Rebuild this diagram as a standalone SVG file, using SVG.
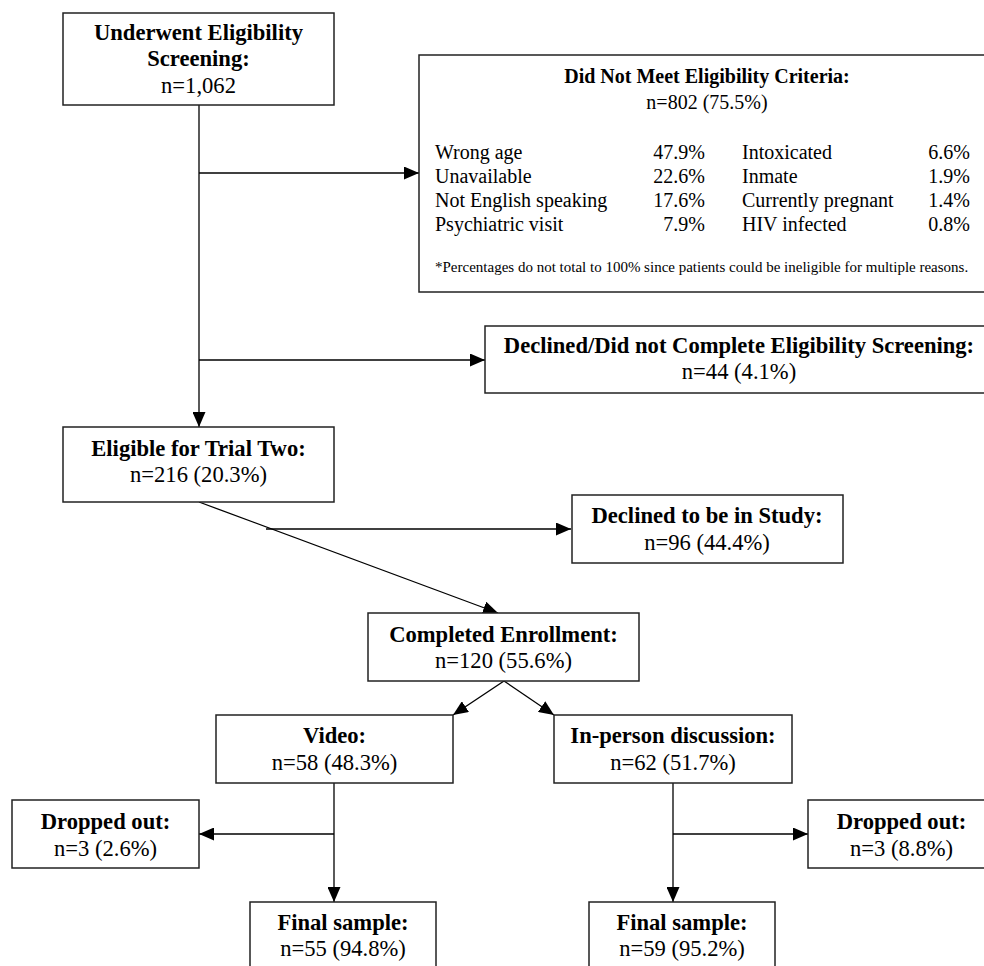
<svg xmlns="http://www.w3.org/2000/svg" width="984" height="966" viewBox="0 0 984 966">
<style>
  text { font-family: "Liberation Serif", "Times New Roman", serif; fill: #000; }
  .t { font-size: 22.6px; font-weight: bold; text-anchor: middle; }
  .n { font-size: 22.6px; text-anchor: middle; }
  .r { font-size: 20px; }
  .ra { font-size: 20px; text-anchor: end; }
  .tb { font-size: 20px; font-weight: bold; text-anchor: middle; }
  .nb { font-size: 20px; text-anchor: middle; }
  .fn { font-size: 15px; }
  rect { fill: #fff; stroke: #222; stroke-width: 1.5; }
  .c line { stroke: #000; stroke-width: 1.3; marker-end: url(#ah); }
  .c line.plain { marker-end: none; }
</style>
<defs>
  <marker id="ah" markerUnits="userSpaceOnUse" markerWidth="15" markerHeight="13" refX="15" refY="6.5" orient="auto">
    <path d="M0,0 L15,6.5 L0,13 z" fill="#000"/>
  </marker>
</defs>
<rect x="0" y="0" width="984" height="966" style="fill:#fff;stroke:none"/>

<g class="c" id="connectors">
  <line class="plain" x1="199" y1="105" x2="199" y2="360"/>
  <line x1="199" y1="173" x2="419" y2="173"/>
  <line x1="199" y1="360" x2="485" y2="360"/>
  <line x1="199" y1="360" x2="199" y2="427"/>
  <line x1="199" y1="502" x2="498" y2="613"/>
  <line x1="266" y1="529" x2="571" y2="529"/>
  <line x1="504" y1="681" x2="453" y2="715"/>
  <line x1="504" y1="681" x2="554" y2="715"/>
  <line x1="334" y1="783" x2="334" y2="902"/>
  <line x1="334" y1="834" x2="199" y2="834"/>
  <line x1="673" y1="783" x2="673" y2="902"/>
  <line x1="673" y1="834" x2="808" y2="834"/>
</g>

<g id="screening">
  <rect x="63" y="13" width="271" height="92"/>
  <text class="t" x="198.5" y="40">Underwent Eligibility</text>
  <text class="t" x="198.5" y="66">Screening:</text>
  <text class="n" x="198.5" y="93">n=1,062</text>
</g>

<g id="not-eligible">
  <rect x="419" y="55" width="576" height="237"/>
  <text class="tb" x="707" y="83">Did Not Meet Eligibility Criteria:</text>
  <text class="nb" x="707" y="109">n=802 (75.5%)</text>
  <text class="r" x="435" y="159">Wrong age</text>
  <text class="r" x="435" y="183">Unavailable</text>
  <text class="r" x="435" y="207">Not English speaking</text>
  <text class="r" x="435" y="231">Psychiatric visit</text>
  <text class="ra" x="705" y="159">47.9%</text>
  <text class="ra" x="705" y="183">22.6%</text>
  <text class="ra" x="705" y="207">17.6%</text>
  <text class="ra" x="705" y="231">7.9%</text>
  <text class="r" x="742" y="159">Intoxicated</text>
  <text class="r" x="742" y="183">Inmate</text>
  <text class="r" x="742" y="207">Currently pregnant</text>
  <text class="r" x="742" y="231">HIV infected</text>
  <text class="ra" x="970" y="159">6.6%</text>
  <text class="ra" x="970" y="183">1.9%</text>
  <text class="ra" x="970" y="207">1.4%</text>
  <text class="ra" x="970" y="231">0.8%</text>
  <text class="fn" x="435" y="272">*Percentages do not total to 100% since patients could be ineligible for multiple reasons.</text>
</g>

<g id="declined-screening">
  <rect x="485" y="326" width="510" height="67"/>
  <text class="t" x="739" y="353">Declined/Did not Complete Eligibility Screening:</text>
  <text class="n" x="739" y="379">n=44 (4.1%)</text>
</g>

<g id="eligible">
  <rect x="63" y="427" width="271" height="75"/>
  <text class="t" x="198.5" y="456">Eligible for Trial Two:</text>
  <text class="n" x="198.5" y="482">n=216 (20.3%)</text>
</g>

<g id="declined-study">
  <rect x="572" y="495" width="271" height="68"/>
  <text class="t" x="707" y="523">Declined to be in Study:</text>
  <text class="n" x="707" y="550">n=96 (44.4%)</text>
</g>

<g id="enrolled">
  <rect x="368" y="613" width="271" height="68"/>
  <text class="t" x="503.5" y="642">Completed Enrollment:</text>
  <text class="n" x="503.5" y="668">n=120 (55.6%)</text>
</g>

<g id="video">
  <rect x="216" y="715" width="237" height="68"/>
  <text class="t" x="334.5" y="743">Video:</text>
  <text class="n" x="334.5" y="770">n=58 (48.3%)</text>
</g>

<g id="in-person">
  <rect x="554" y="715" width="238" height="68"/>
  <text class="t" x="673" y="743">In-person discussion:</text>
  <text class="n" x="673" y="770">n=62 (51.7%)</text>
</g>

<g id="dropped-video">
  <rect x="12" y="800" width="187" height="68"/>
  <text class="t" x="105.5" y="829">Dropped out:</text>
  <text class="n" x="105.5" y="856">n=3 (2.6%)</text>
</g>

<g id="dropped-inperson">
  <rect x="808" y="800" width="187" height="68"/>
  <text class="t" x="901.5" y="829">Dropped out:</text>
  <text class="n" x="901.5" y="856">n=3 (8.8%)</text>
</g>

<g id="final-video">
  <rect x="250" y="902" width="186" height="75"/>
  <text class="t" x="343" y="930">Final sample:</text>
  <text class="n" x="343" y="956">n=55 (94.8%)</text>
</g>

<g id="final-inperson">
  <rect x="589" y="902" width="186" height="75"/>
  <text class="t" x="682" y="930">Final sample:</text>
  <text class="n" x="682" y="956">n=59 (95.2%)</text>
</g>
</svg>
